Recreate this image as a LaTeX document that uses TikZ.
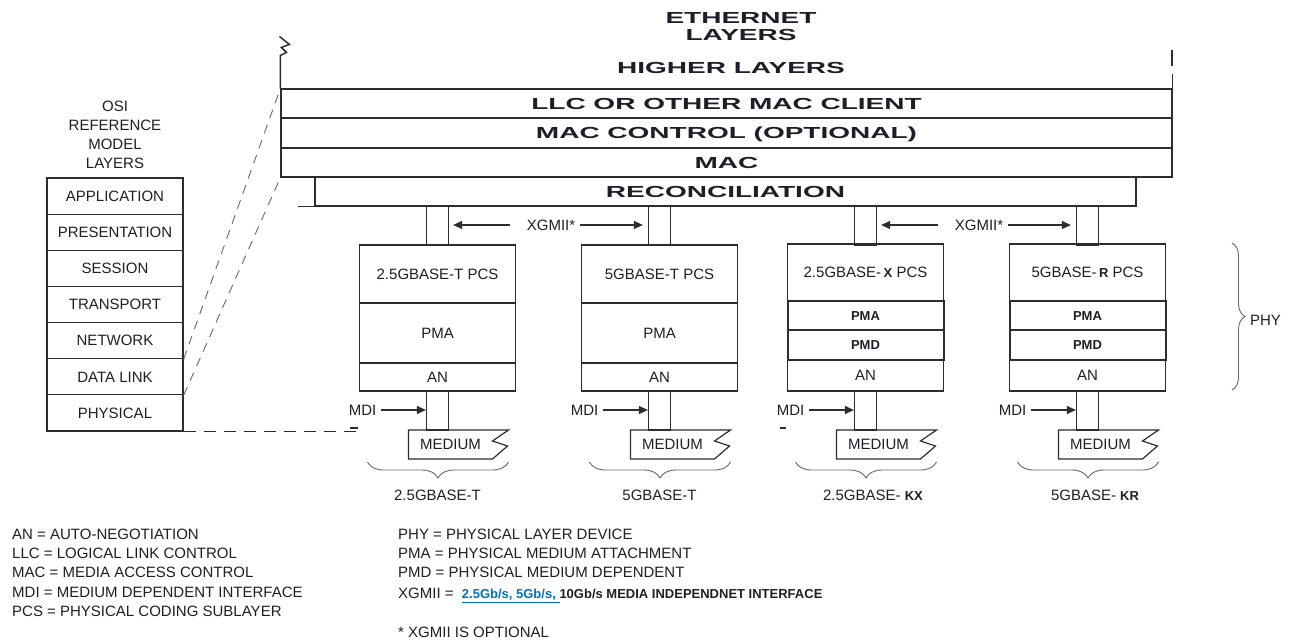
\documentclass[tikz,border=0pt]{standalone}
\usepackage{fontspec}
\setmainfont{Liberation Sans}
\usepackage{graphicx}
\usepackage{tikz}
\usetikzlibrary{arrows.meta, positioning, decorations.pathreplacing, calc}
\usepackage{xcolor}
\definecolor{ethink}{RGB}{30,30,40}
\definecolor{ethline}{RGB}{45,45,45}
\definecolor{ethlink}{RGB}{0,112,192}
\newcommand{\stretched}[1]{\scalebox{1.75}[1]{#1}}
\newcommand{\smallbf}{\bfseries\fontsize{13}{15}\selectfont}

\begin{document}
\begin{tikzpicture}[x=1pt, y=-1pt,
  lbl/.style={font=\fontsize{15}{18}\selectfont, text=ethink, inner sep=0pt,
              text height=10.7pt, text depth=0pt},
  boldlbl/.style={lbl, font=\smallbf, text height=9.3pt},
  layer/.style={draw=ethline, line width=1.2pt, inner sep=0pt, text=ethink,
                font=\bfseries\fontsize{16}{18}\selectfont, text height=11.5pt, text depth=0pt},
  osibox/.style={lbl, draw=ethline, line width=1.2pt, minimum width=136pt, minimum height=36.14pt},
  sub/.style={lbl, draw=ethline, line width=1.2pt, minimum width=156pt},
  subbold/.style={sub, boldlbl, line width=2pt},
  bus/.style={draw=ethline, line width=1.2pt, minimum width=22pt, minimum height=39pt, inner sep=0pt},
  arr/.style={-{Triangle[length=9pt, width=8pt]}, ethline, line width=1.2pt},
  slant/.style={black!60, line width=0.9pt, dash pattern=on 9pt off 7pt},
  brc/.style={decorate, decoration={brace, amplitude=#1}, black!60, line width=0.9pt},
]
  \useasboundingbox (0,0) rectangle (1290,642);

  % ── Ethernet layer stack ──
  \node[layer, draw=none] (eth1) at (741,18) {\stretched{ETHERNET}};
  \node[layer, draw=none] (eth2) at (741,35) {\stretched{LAYERS}};
  \node[layer, draw=none] (higher) at (731,68) {\stretched{HIGHER LAYERS}};
  \node[layer, minimum width=891pt, minimum height=29pt] (llc) at (726.5,103.5) {\stretched{LLC OR OTHER MAC CLIENT}};
  \node[layer, minimum width=891pt, minimum height=30pt] (macctl) at (726.5,133) {\stretched{MAC CONTROL (OPTIONAL)}};
  \node[layer, minimum width=891pt, minimum height=29pt] (mac) at (726.5,162.5) {\stretched{MAC}};
  \node[layer, minimum width=821pt, minimum height=29pt] (recon) at (725.5,191.5) {\stretched{RECONCILIATION}};

  \draw[ethline, line width=1.5pt] (llc.north west) -- ++(0,-33) -- ++(6,-3) -- ++(-5,-5) -- ++(8,-3) -- ++(-10,-8);
  \draw[ethline, line width=1.5pt] (llc.north east) -- ++(0,-14);
  \draw[ethline, line width=2pt] (1172,50) -- (1172,66);
  \draw[ethline, line width=1.2pt] (recon.south west) -- ++(-16,0);

  % ── PHY columns ──
  \node[sub, minimum height=58pt] (pcsA) at (437.5,274) {2.5GBASE-T PCS};
  \node[sub, minimum height=60pt] (pmaA) at (437.5,333) {PMA};
  \node[sub, minimum height=28pt] (anA) at (437.5,377) {AN};

  \node[sub, minimum height=58pt] (pcsB) at (659.5,274) {5GBASE-T PCS};
  \node[sub, minimum height=60pt] (pmaB) at (659.5,333) {PMA};
  \node[sub, minimum height=28pt] (anB) at (659.5,377) {AN};

  \node[sub, minimum height=57pt] (pcsC) at (865.5,272.5) {2.5GBASE-\,{\smallbf X} PCS};
  \node[subbold, minimum height=29pt] (pmaC) at (865.5,315.5) {PMA};
  \node[subbold, minimum height=30pt] (pmdC) at (865.5,345) {PMD};
  \node[sub, minimum height=31pt] (anC) at (865.5,375.5) {AN};

  \node[sub, minimum height=57pt] (pcsD) at (1087.5,272.5) {5GBASE-\,{\smallbf R} PCS};
  \node[subbold, minimum height=29pt] (pmaD) at (1087.5,315.5) {PMA};
  \node[subbold, minimum height=30pt] (pmdD) at (1087.5,345) {PMD};
  \node[sub, minimum height=31pt] (anD) at (1087.5,375.5) {AN};

  \foreach \c/\x in {A/437.5, B/659.5, C/865.5, D/1087.5} {
    \node[bus] (topbus\c) at (\x,225.5) {};
    \node[bus] (lowbus\c) at (\x,410.5) {};
    \draw[ethline, line width=1.2pt] (\x-29,430) -- (\x+71,430) -- (\x+55,441) -- (\x+70,446)
      -- (\x+55,459) -- (\x-29,459) -- cycle;
    \node[lbl] (medium\c) at (\x+13,444.5) {MEDIUM};
    \node[lbl] (mdi\c) at (\x-75,410) {MDI};
    \draw[arr] ([xshift=5pt]mdi\c.east) -- (mdi\c.east -| lowbus\c.west);
    \draw[brc=16pt] (\x+71,462) -- (\x-70,462);
  }
  \draw[ethline, line width=1.2pt] (350,428) -- (358,428);
  \draw[ethline, line width=1.2pt] (780,428) -- (786,428);

  % ── XGMII arrows ──
  \node[lbl] (xgmiiAB) at (551,225) {XGMII*};
  \draw[arr] ([xshift=-17pt]xgmiiAB.west) -- ([xshift=4pt]xgmiiAB.west -| topbusA.east);
  \draw[arr] ([xshift=5pt]xgmiiAB.east) -- ([xshift=-5pt]xgmiiAB.east -| topbusB.west);
  \node[lbl] (xgmiiCD) at (979,225) {XGMII*};
  \draw[arr] ([xshift=-17pt]xgmiiCD.west) -- ([xshift=4pt]xgmiiCD.west -| topbusC.east);
  \draw[arr] ([xshift=5pt]xgmiiCD.east) -- ([xshift=-5pt]xgmiiCD.east -| topbusD.west);

  % ── Port type labels ──
  \node[lbl] (typeA) at (437.5,495) {2.5GBASE-T};
  \node[lbl] (typeB) at (659.5,495) {5GBASE-T};
  \node[lbl] (typeC) at (873,495) {2.5GBASE-\ {\smallbf KX}};
  \node[lbl] (typeD) at (1095,495) {5GBASE-\ {\smallbf KR}};

  \draw[brc=13pt] (1232,243) -- (1232,390);
  \node[lbl] (phy) at (1265.5,320) {PHY};

  % ── OSI reference model ──
  \foreach \t [count=\i] in {OSI, REFERENCE, MODEL, LAYERS}
    \node[lbl] (osititle\i) at (115,87+19*\i) {\t};
  \foreach \t [count=\i] in {APPLICATION, PRESENTATION, SESSION, TRANSPORT, NETWORK, DATA LINK, PHYSICAL}
    \node[osibox] (osi\i) at (115,159.93+36.14*\i) {\t};

  \draw[slant] (osi5.south east) -- (llc.north west);
  \draw[slant] (osi6.south east) -- (mac.south west);
  \draw[ethline, line width=1pt, dash pattern=on 12pt off 8pt] (osi7.south east) -- (osi7.south east -| pcsA.west);

  % ── Abbreviations ──
  \foreach \t [count=\i] in {AN = AUTO-NEGOTIATION, LLC = LOGICAL LINK CONTROL, MAC = MEDIA ACCESS CONTROL,
                             MDI = MEDIUM DEPENDENT INTERFACE, PCS = PHYSICAL CODING SUBLAYER}
    \node[lbl, anchor=west] (abbr\i) at (12,514.75+19.25*\i) {\t};
  \foreach \t [count=\i] in {PHY = PHYSICAL LAYER DEVICE, PMA = PHYSICAL MEDIUM ATTACHMENT, PMD = PHYSICAL MEDIUM DEPENDENT}
    \node[lbl, anchor=west] (def\i) at (398,514.75+19.25*\i) {\t};
  \node[lbl, anchor=west] (defxgmii) at (398,593) {XGMII = \ {\smallbf\color{ethlink}\underline{2.5Gb/s, 5Gb/s,\ }}{\smallbf 10Gb/s MEDIA INDEPENDNET INTERFACE}};
  \node[lbl, anchor=west] (optnote) at (398,632) {* XGMII IS OPTIONAL};
\end{tikzpicture}
\end{document}
